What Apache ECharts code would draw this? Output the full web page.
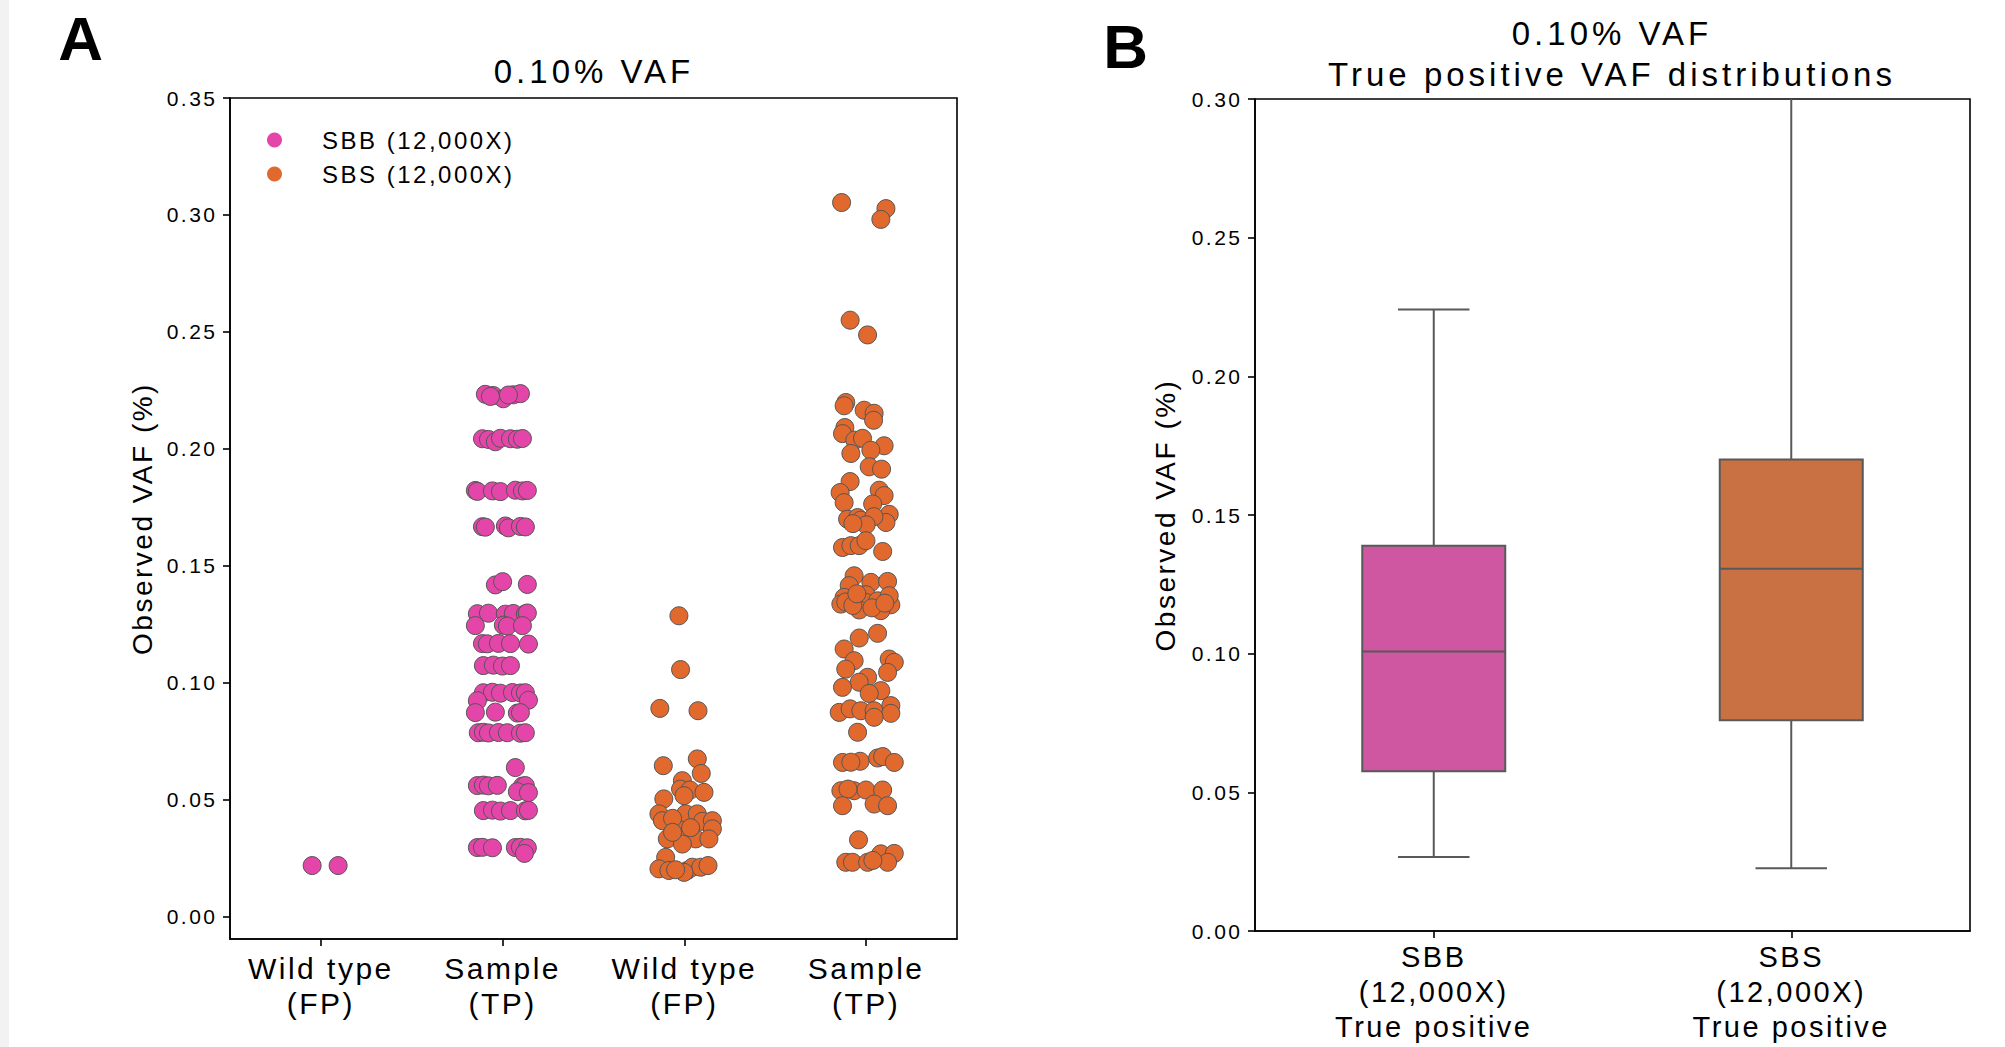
<!DOCTYPE html>
<html>
<head>
<meta charset="utf-8">
<title>0.10% VAF</title>
<script src="https://cdn.jsdelivr.net/npm/echarts@6/dist/echarts.min.js"></script>
<style>
  html, body { margin: 0; padding: 0; background: #fff; }
  #main { width: 2005px; height: 1047px; }
  /* the source figure has loosely tracked text */
  #main text { letter-spacing: 2.5px; }
  #main text[style*="33px"] { letter-spacing: 4px; }
</style>
</head>
<body>
<div id="main"></div>
<script>
// ---- panel A: strip plot ----
const stripCategories = ['Wild type\n(FP)', 'Sample\n(TP)', 'Wild type\n(FP)', 'Sample\n(TP)'];
const stripTicks = [0, 0.05, 0.10, 0.15, 0.20, 0.25, 0.30, 0.35];
const nLabelText = ['n = 0', 'n = 49'];

// SBB, wild type (category 0)
const sbbWildVaf = [0.0218, 0.0218];
const sbbWildJitter = [-0.048, 0.095];

// SBB, sample (category 1)
const sbbSampleVaf = [
    0.2233, 0.2228, 0.2214, 0.2231, 0.2236, 0.2224, 0.2230,
    0.2043, 0.2040, 0.2030, 0.2045, 0.2043, 0.2041, 0.2044,
    0.1822, 0.1818, 0.1820, 0.1817, 0.1823, 0.1820, 0.1822,
    0.1667, 0.1665, 0.1670, 0.1662, 0.1668, 0.1666,
    0.1418, 0.1432, 0.1420,
    0.1295, 0.1297, 0.1293, 0.1296, 0.1294, 0.1298,
    0.1244, 0.1246, 0.1242, 0.1244,
    0.1167, 0.1166, 0.1168, 0.1167, 0.1165,
    0.1073, 0.1075, 0.1071, 0.1073,
    0.0957, 0.0959, 0.0955, 0.0958, 0.0956, 0.0957,
    0.0923, 0.0925,
    0.0872, 0.0874, 0.0870, 0.0872,
    0.0786, 0.0788, 0.0785, 0.0787, 0.0786, 0.0784, 0.0786,
    0.0637,
    0.0560, 0.0562, 0.0559, 0.0561, 0.0558, 0.0560,
    0.0534, 0.0530,
    0.0453, 0.0455, 0.0451, 0.0453, 0.0452, 0.0454,
    0.0295, 0.0296, 0.0294, 0.0295, 0.0296, 0.0294,
    0.0270
];
const sbbSampleJitter = [
    -0.095, -0.051, 0.004, 0.059, 0.098, -0.067, 0.032,
    -0.111, -0.078, -0.040, -0.012, 0.043, 0.081, 0.109,
    -0.150, -0.139, -0.056, -0.012, 0.070, 0.109, 0.136,
    -0.111, -0.095, 0.015, 0.032, 0.098, 0.125,
    -0.040, 0.000, 0.136,
    -0.139, -0.078, 0.015, 0.059, 0.125, 0.136,
    -0.150, 0.004, 0.026, 0.109,
    -0.111, -0.084, -0.023, 0.043, 0.142,
    -0.106, -0.051, -0.001, 0.043,
    -0.106, -0.056, -0.012, 0.054, 0.098, 0.125,
    -0.139, 0.142,
    -0.150, -0.040, 0.081, 0.098,
    -0.134, -0.106, -0.078, -0.023, 0.026, 0.098, 0.125,
    0.070,
    -0.139, -0.106, -0.078, -0.029, 0.109, 0.125,
    0.081, 0.142,
    -0.106, -0.056, -0.012, 0.043, 0.125, 0.142,
    -0.139, -0.111, -0.056, 0.070, 0.098, 0.136,
    0.120
];

// SBS, wild type (category 2)
const sbsWildVaf = [
    0.1286, 0.1056, 0.0890, 0.0880, 0.0645, 0.0674, 0.0612,
    0.0581, 0.0545, 0.0541, 0.0531, 0.0517, 0.0503,
    0.0439, 0.0410, 0.0439, 0.0439, 0.0407, 0.0410, 0.0375, 0.0370, 0.0420,
    0.0332, 0.0332, 0.0332, 0.0310, 0.0360, 0.0380,
    0.0253, 0.0204, 0.0197, 0.0197, 0.0211, 0.0211, 0.0218, 0.0189, 0.0200
];
const sbsWildJitter = [
    -0.030, -0.021, -0.135, 0.075, -0.116, 0.071, 0.093,
    -0.011, -0.021, 0.031, 0.108, -0.002, -0.113,
    -0.140, -0.121, 0.007, 0.071, 0.099, 0.154, 0.154, -0.021, -0.065,
    -0.094, 0.062, 0.135, -0.011, -0.065, 0.034,
    -0.103, -0.140, -0.085, 0.016, 0.044, 0.090, 0.130, -0.002, -0.048
];

// SBS, sample (category 3)
const sbsSampleVaf = [
    0.3053, 0.3027, 0.2981, 0.2550, 0.2487,
    0.2198, 0.2184, 0.2165, 0.2152, 0.2122, 0.2091, 0.2065, 0.2037, 0.2045, 0.2013,
    0.1994, 0.1980, 0.1923, 0.1913, 0.1860, 0.1813, 0.1823, 0.1770, 0.1800, 0.1764,
    0.1699, 0.1706, 0.1720, 0.1685, 0.1695, 0.1710, 0.1675, 0.1680,
    0.1578, 0.1586, 0.1586, 0.1607, 0.1561,
    0.1457, 0.1415, 0.1429, 0.1433,
    0.1365, 0.1336, 0.1376, 0.1343, 0.1350, 0.1333, 0.1311, 0.1308, 0.1372,
    0.1345, 0.1330, 0.1320, 0.1340, 0.1380,
    0.1191, 0.1211, 0.1144, 0.1094, 0.1058, 0.1101, 0.1087,
    0.1023, 0.1044, 0.1002, 0.0980, 0.0966, 0.0954,
    0.0873, 0.0888, 0.0880, 0.0880, 0.0902, 0.0869, 0.0852, 0.0788,
    0.0659, 0.0664, 0.0678, 0.0684, 0.0659, 0.0660,
    0.0538, 0.0538, 0.0541, 0.0541, 0.0545, 0.0474, 0.0481, 0.0474,
    0.0328,
    0.0232, 0.0232, 0.0232, 0.0268, 0.0270, 0.0232, 0.0240
];
const sbsSampleJitter = [
    -0.135, 0.109, 0.081, -0.088, 0.008,
    -0.112, -0.121, -0.011, 0.044, 0.041, -0.117, -0.130, -0.062, -0.020, 0.099,
    0.026, -0.084, 0.017, 0.085, -0.088, -0.143, 0.072, -0.121, 0.099, 0.036,
    -0.102, -0.047, 0.127, 0.109, -0.029, 0.043, 0.000, -0.073,
    -0.130, -0.084, -0.038, -0.001, 0.091,
    -0.066, -0.093, 0.026, 0.118,
    -0.121, -0.139, -0.001, -0.001, 0.063, 0.136, -0.038, 0.081, 0.127,
    -0.112, -0.073, 0.032, 0.103, -0.051,
    -0.038, 0.063, -0.121, -0.066, -0.112, 0.127, 0.155,
    0.008, 0.118, -0.038, -0.130, 0.081, 0.017,
    -0.148, -0.088, -0.029, 0.044, 0.136, 0.136, 0.044, -0.047,
    -0.130, -0.033, 0.063, 0.091, 0.155, -0.084,
    -0.139, -0.066, -0.001, 0.091, -0.100, -0.130, 0.044, 0.118,
    -0.042,
    -0.112, -0.075, 0.008, 0.081, 0.155, 0.118, 0.037
];

// ---- panel B: box plot ----
const boxCategories = ['SBB\n(12,000X)\nTrue positive', 'SBS\n(12,000X)\nTrue positive'];
const boxLow = [0.0267, 0.0226];
const boxQ1 = [0.0576, 0.0760];
const boxMedian = [0.1008, 0.1306];
const boxQ3 = [0.1389, 0.1700];
const boxHigh = [0.2241, 0.3050];

const FONT = "'Liberation Sans', Arial, Helvetica, sans-serif";
const pink = '#e345a8';
const orange = '#e2692d';
const boxColors = ['#cf57a1', '#c97143'];
const edgeGray = '#555555';

function toPoints(cat, vaf, jitter) {
    return vaf.map((v, i) => [cat + jitter[i], v]);
}

const sbbData = toPoints(0, sbbWildVaf, sbbWildJitter).concat(toPoints(1, sbbSampleVaf, sbbSampleJitter));
const sbsData = toPoints(2, sbsWildVaf, sbsWildJitter).concat(toPoints(3, sbsSampleVaf, sbsSampleJitter));
const boxData = boxCategories.map((c, i) => [i, boxLow[i], boxQ1[i], boxMedian[i], boxQ3[i], boxHigh[i]]);

function renderBox(params, api) {
    const idx = api.value(0);
    const low = api.coord([idx, api.value(1)]);
    const q1 = api.coord([idx, api.value(2)]);
    const med = api.coord([idx, api.value(3)]);
    const q3 = api.coord([idx, api.value(4)]);
    const high = api.coord([idx, api.value(5)]);
    const bw = api.size([1, 0])[0] * 0.4;
    const cx = q1[0];
    const ls = { stroke: '#595959', lineWidth: 2 };
    return {
        type: 'group',
        children: [
            { type: 'line', shape: { x1: cx, y1: low[1], x2: cx, y2: q1[1] }, style: ls },
            { type: 'line', shape: { x1: cx, y1: q3[1], x2: cx, y2: high[1] }, style: ls },
            { type: 'line', shape: { x1: cx - bw / 4, y1: low[1], x2: cx + bw / 4, y2: low[1] }, style: ls },
            { type: 'line', shape: { x1: cx - bw / 4, y1: high[1], x2: cx + bw / 4, y2: high[1] }, style: ls },
            {
                type: 'rect',
                shape: { x: cx - bw / 2, y: q3[1], width: bw, height: q1[1] - q3[1] },
                style: { fill: boxColors[params.dataIndex], stroke: '#595959', lineWidth: 2 }
            },
            { type: 'line', shape: { x1: cx - bw / 2, y1: med[1], x2: cx + bw / 2, y2: med[1] }, style: ls }
        ]
    };
}

const axisLine = { show: true, onZero: false, lineStyle: { color: '#000', width: 1.6 } };
const axisTick = { show: true, length: 7, lineStyle: { color: '#000', width: 1.6 } };

const chart = echarts.init(document.getElementById('main'), null, { renderer: 'svg' });

chart.setOption({
    backgroundColor: '#fff',
    animation: false,
    textStyle: { fontFamily: FONT, color: '#000' },
    graphic: [
        { type: 'rect', shape: { x: 0, y: 0, width: 9, height: 1047 }, style: { fill: '#f2f2f2' } },
        { type: 'text', x: 82, y: 38, style: { text: 'A', font: 'bold 62px ' + FONT, fill: '#000', textAlign: 'center', textVerticalAlign: 'middle' } },
        { type: 'text', x: 1127, y: 46, style: { text: 'B', font: 'bold 62px ' + FONT, fill: '#000', textAlign: 'center', textVerticalAlign: 'middle' } },
        { type: 'text', x: 594, y: 71.5, style: { text: '0.10% VAF', font: '33px ' + FONT, fill: '#000', textAlign: 'center', textVerticalAlign: 'middle' } },
        {
            type: 'text', x: 1612, y: 53.5,
            style: { text: '0.10% VAF\nTrue positive VAF distributions', font: '33px ' + FONT, lineHeight: 41, fill: '#000', textAlign: 'center', textVerticalAlign: 'middle' }
        }
    ],
    legend: {
        data: ['SBB (12,000X)', 'SBS (12,000X)'],
        orient: 'vertical',
        left: 262,
        top: 123,
        itemWidth: 15,
        itemHeight: 15,
        itemGap: 10,
        icon: 'circle',
        selectedMode: false,
        itemStyle: { borderWidth: 0 },
        textStyle: { fontSize: 24, color: '#000', fontFamily: FONT, padding: [0, 0, 0, 35] }
    },
    grid: [
        { left: 230, top: 98, width: 727, height: 841, show: true, borderColor: '#000', borderWidth: 1.6 },
        { left: 1255, top: 99, width: 715, height: 832, show: true, borderColor: '#000', borderWidth: 1.6 }
    ],
    xAxis: [
        {
            gridIndex: 0,
            type: 'value',
            min: -0.5,
            max: 3.5,
            axisLine,
            axisTick: Object.assign({ customValues: [0, 1, 2, 3] }, axisTick),
            splitLine: { show: false },
            axisLabel: {
                customValues: [0, 1, 2, 3],
                formatter: (v) => stripCategories[Math.round(v)],
                fontSize: 30,
                lineHeight: 35,
                margin: 12,
                color: '#000'
            }
        },
        {
            gridIndex: 1,
            type: 'category',
            data: boxCategories,
            axisLine,
            axisTick: Object.assign({ alignWithLabel: true }, axisTick),
            axisLabel: { fontSize: 29, lineHeight: 35, margin: 8, color: '#000', interval: 0 }
        }
    ],
    yAxis: [
        {
            gridIndex: 0,
            type: 'value',
            min: -0.0096,
            max: 0.35,
            name: 'Observed VAF (%)',
            nameLocation: 'middle',
            nameGap: 74,
            nameTextStyle: { fontSize: 28, color: '#000' },
            axisLine,
            axisTick: Object.assign({ customValues: stripTicks }, axisTick),
            splitLine: { show: false },
            axisLabel: {
                customValues: stripTicks,
                formatter: (v) => v.toFixed(2),
                fontSize: 21,
                margin: 12.5,
                color: '#000'
            }
        },
        {
            gridIndex: 1,
            type: 'value',
            min: 0,
            max: 0.30,
            interval: 0.05,
            name: 'Observed VAF (%)',
            nameLocation: 'middle',
            nameGap: 76,
            nameTextStyle: { fontSize: 28, color: '#000' },
            axisLine,
            axisTick,
            splitLine: { show: false },
            axisLabel: { formatter: (v) => v.toFixed(2), fontSize: 21, margin: 12.5, color: '#000' }
        }
    ],
    series: [
        {
            name: 'SBB (12,000X)',
            type: 'scatter',
            xAxisIndex: 0,
            yAxisIndex: 0,
            data: sbbData,
            symbolSize: 18,
            itemStyle: { color: pink, borderColor: edgeGray, borderWidth: 1, opacity: 1 }
        },
        {
            name: 'SBS (12,000X)',
            type: 'scatter',
            xAxisIndex: 0,
            yAxisIndex: 0,
            data: sbsData,
            symbolSize: 18,
            itemStyle: { color: orange, borderColor: edgeGray, borderWidth: 1, opacity: 1 }
        },
        {
            name: 'counts',
            type: 'scatter',
            xAxisIndex: 0,
            yAxisIndex: 0,
            silent: true,
            data: [[1, 0.0079], [3, 0.0079]],
            symbolSize: 1,
            itemStyle: { opacity: 0 },
            label: {
                show: true,
                position: 'inside',
                formatter: (p) => nLabelText[p.dataIndex],
                fontSize: 17,
                color: '#000'
            }
        },
        {
            name: 'boxes',
            type: 'custom',
            xAxisIndex: 1,
            yAxisIndex: 1,
            clip: true,
            renderItem: renderBox,
            encode: { x: 0, y: [1, 2, 3, 4, 5] },
            data: boxData
        }
    ]
});
</script>
</body>
</html>
